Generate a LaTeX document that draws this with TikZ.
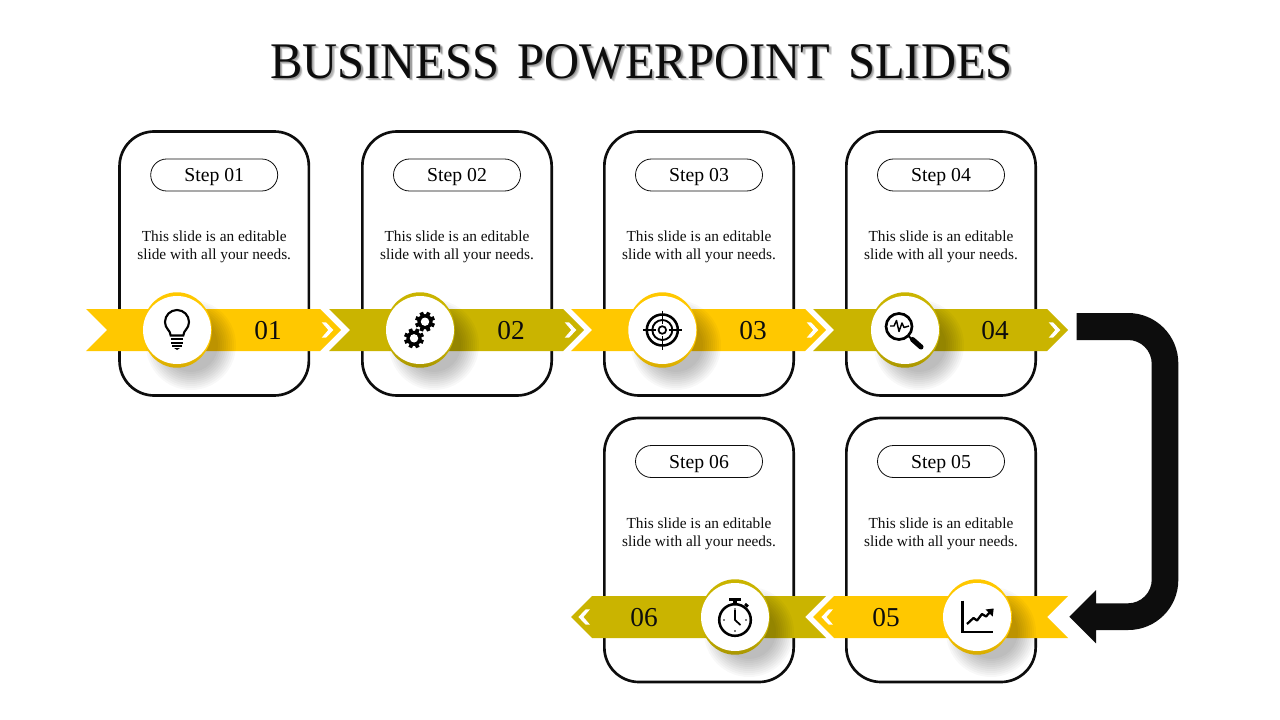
\documentclass[tikz,border=0pt]{standalone}
\usepackage{fontspec}
\setmainfont{Liberation Serif}
\newfontfamily\titlefont[FakeStretch=.945,WordSpace=1.5]{Liberation Serif}
\usetikzlibrary{calc,shapes.geometric}
\definecolor{ylw}{HTML}{FFC800}
\definecolor{ylwd}{HTML}{D6AB00}
\definecolor{olv}{HTML}{CAB400}
\definecolor{olvd}{HTML}{A89500}
\definecolor{ink}{HTML}{0D0D0D}
\pgfdeclareverticalshading{ringyshade}{100bp}{color(0bp)=(ylwd); color(25bp)=(ylwd); color(40bp)=(ylw); color(100bp)=(ylw)}
\pgfdeclareverticalshading{ringoshade}{100bp}{color(0bp)=(olvd); color(25bp)=(olvd); color(40bp)=(olv); color(100bp)=(olv)}
\tikzset{
  card/.style={draw=ink,line width=2pt,rounded corners=26pt,minimum width=142pt,minimum height=198pt,inner sep=0,outer sep=0,fill=white},
  pill/.style={draw=ink,line width=.6pt,rounded corners=12pt,minimum width=95.25pt,minimum height=24pt,inner sep=0,text height=12.6pt,text depth=2.8pt,font=\fontsize{14.8}{17}\selectfont},
  bodytext/.style={align=center,inner sep=0,font=\fontsize{11.5}{13.5}\selectfont,text=ink},
  numtext/.style={inner sep=0,font=\fontsize{20.5}{24}\selectfont,text=ink},
  ringy/.style={ellipse,minimum width=52.2pt,minimum height=56.6pt,inner sep=0,outer sep=0,shading=ringyshade,draw=none},
  ringo/.style={ellipse,minimum width=52.2pt,minimum height=56.6pt,inner sep=0,outer sep=0,shading=ringoshade,draw=none},
  whitedisc/.style={circle,minimum size=51pt,inner sep=0,outer sep=0,fill=white},
  titletext/.style={inner sep=0,font=\titlefont\fontsize{38.5}{44}\selectfont},
  icon/.style={draw=black,line width=1.6pt},
  iconthin/.style={draw=black,line width=1.3pt},
}
\newcommand{\cardblock}[4]{% id, centre x, top y, label
  \node[card] (card#1) at (#2,#3+132) {};
  \node[pill] (pill#1) at (#2,#3+43.5) {Step #4};
  \node[bodytext] (body#1) at (#2,#3+115.5) {This slide is an editable\\slide with all your needs.};
}
\newcommand{\softshadow}[2]{%
  \foreach \r in {27,29,...,45} {\fill[black,opacity=.028] (#1+14,#2+15) circle (\r);}
}
\begin{document}
\begin{tikzpicture}[x=.75pt,y=-.75pt]
\useasboundingbox (0,0) rectangle (1280,720);
\fill[white] (0,0) rectangle (1280,720);
% title
\foreach \d/\o in {3.2/.06,2.6/.1,2/.14,1.4/.18} {\node[titletext,text=black,opacity=\o] at (641.5+\d,61.5+\d) {BUSINESS POWERPOINT SLIDES};}
\node[titletext,text=ink] (title) at (641.5,61.5) {BUSINESS POWERPOINT SLIDES};
% cards
\cardblock{1}{214.2}{131.5}{01}
\cardblock{2}{457}{131.5}{02}
\cardblock{3}{699}{131.5}{03}
\cardblock{4}{941}{131.5}{04}
\cardblock{6}{699}{418}{06}
\cardblock{5}{941}{418}{05}
% banners
\fill[ylw] (86,309) -- (320,309) -- (341,330) -- (320,351) -- (86,351) -- (107,330) -- cycle;
\fill[olv] (329,309) -- (563,309) -- (584,330) -- (563,351) -- (329,351) -- (350,330) -- cycle;
\fill[ylw] (571,309) -- (805,309) -- (826,330) -- (805,351) -- (571,351) -- (592,330) -- cycle;
\fill[olv] (813,309) -- (1047,309) -- (1068,330) -- (1047,351) -- (813,351) -- (834,330) -- cycle;
\fill[ylw] (1068,596) -- (834,596) -- (813,617) -- (834,638) -- (1068,638) -- (1047,617) -- cycle;
\fill[olv] (826,596) -- (592,596) -- (571,617) -- (592,638) -- (826,638) -- (805,617) -- cycle;
% small chevrons
\foreach \x in {321.7,564.7,806.7,1048.7} {
  \fill[white] (\x,322.3) -- (\x+4.3,322.3) -- (\x+11.6,330) -- (\x+4.3,337.7) -- (\x,337.7) -- (\x+6.6,330) -- cycle;
}
\foreach \x in {833,590} {
  \fill[white] (\x,609.3) -- (\x-4.3,609.3) -- (\x-11.6,617) -- (\x-4.3,624.7) -- (\x,624.7) -- (\x-6.6,617) -- cycle;
}
% numbers
\node[numtext] (num1) at (268,331) {01};
\node[numtext] (num2) at (511,331) {02};
\node[numtext] (num3) at (753,331) {03};
\node[numtext] (num4) at (995,331) {04};
\node[numtext] (num5) at (886,618) {05};
\node[numtext] (num6) at (644,618) {06};
% shadows
\softshadow{177}{330}\softshadow{420}{330}\softshadow{662}{330}\softshadow{905}{330}\softshadow{735}{617}\softshadow{977}{617}
% discs
\node[ringy] (r1) at (177,330) {}; \node[whitedisc] (d1) at (177,330) {};
\node[ringo] (r2) at (420,330) {}; \node[whitedisc] (d2) at (420,330) {};
\node[ringy] (r3) at (662.3,330) {}; \node[whitedisc] (d3) at (662.3,330) {};
\node[ringo] (r4) at (905,330) {}; \node[whitedisc] (d4) at (905,330) {};
\node[ringo] (r6) at (735,617) {}; \node[whitedisc] (d6) at (735,617) {};
\node[ringy] (r5) at (977,617) {}; \node[whitedisc] (d5) at (977,617) {};
% bulb
\draw[icon] (170.7,335.5) .. controls (170.5,330) and (165,329) .. (165,322) arc[start angle=180,end angle=360,radius=12] .. controls (189,329) and (183.5,330) .. (183.3,335.5) -- cycle;
\draw[icon] (171,339.2) -- (183,339.2);
\draw[icon] (171,343) -- (183,343);
\draw[icon] (172,346.4) -- (182,346.4);
\fill[black] (174,348) -- (180,348) -- (177,350) -- cycle;
% gears
\foreach \cx/\cy in {425/321.7,414/338.3} {
  \foreach \a in {0,45,...,315} {
    \fill[black,shift={(\cx,\cy)},rotate=\a+22.5] (-1.9,-10) rectangle (1.9,0);
  }
  \fill[black] (\cx,\cy) circle (7.6);
  \fill[white] (\cx,\cy) circle (4.2);
}
% target
\draw[icon,line width=1.9pt] (662.3,330) circle (15.5);
\draw[iconthin,line width=1.4pt] (662.3,330) circle (10);
\draw[iconthin,line width=1.3pt] (662.3,330) circle (3.8);
\draw[iconthin,line width=1.1pt] (643,330) -- (656,330) (668.6,330) -- (681.6,330) (662.3,310.5) -- (662.3,323.7) (662.3,336.3) -- (662.3,349.5);
% magnifier
\draw[icon,line width=2pt] (899,326.5) circle (13);
\draw[line width=1.4pt] (908.5,336) -- (912.5,340);
\draw[line width=3.8pt,line cap=round] (912.5,339.5) -- (921,347);
\draw[iconthin,line width=1.1pt,line join=round] (890,326) -- (894,326) -- (896.5,320.5) -- (899,331.5) -- (902,323) -- (904,327.5) -- (909,326);
% stopwatch
\draw[icon,line width=1.9pt] (735,620) circle (15.8);
\draw[line width=2pt] (729,599.5) -- (741,599.5);
\draw[line width=2.4pt] (735,600) -- (735,604);
\draw[line width=2.1pt] (745,604) -- (748,606.5);
\draw[line width=1.3pt] (735,610) -- (735,620) -- (740.5,625);
\foreach \p in {(735,609),(746,620),(735,631),(724,620)} {\fill[black] \p circle (.9);}
% chart
\draw[icon,line width=1.8pt] (962.3,600.7) -- (962.3,631.7) -- (993.3,631.7);
\draw[icon,line width=1.7pt,line join=round] (967,624) -- (973.5,618) -- (977,620.5) -- (982,614) -- (986,616.5) -- (990,612);
\fill[black] (985.5,609.5) -- (993.7,608.5) -- (992.7,616.5) -- cycle;
% big arrow
\fill[ink] (1076.7,313) -- (1128,313) arc[start angle=-90,end angle=0,radius=50.3] -- (1178.3,580) arc[start angle=0,end angle=90,radius=50] -- (1096,630) -- (1096,643.3) -- (1069.3,616.7) -- (1096,590) -- (1096,603.3) -- (1128,603.3) arc[start angle=90,end angle=0,radius=23.7] -- (1151.7,363.7) arc[start angle=0,end angle=-90,radius=23.7] -- (1076.7,340) -- cycle;
\end{tikzpicture}
\end{document}
